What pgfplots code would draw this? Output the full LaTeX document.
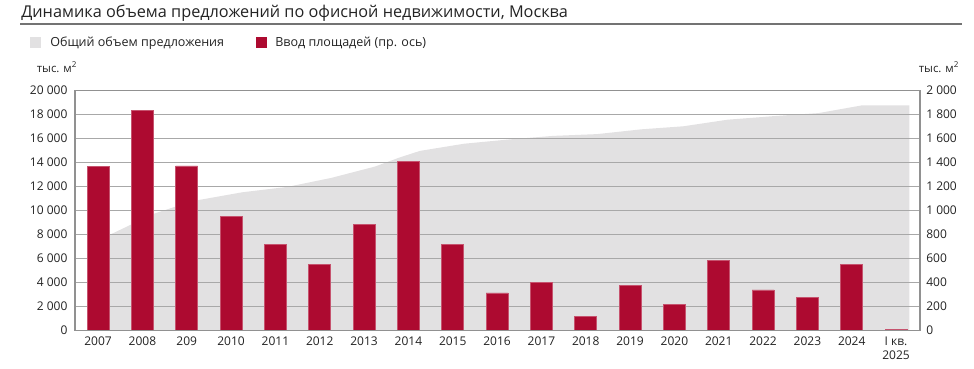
\documentclass[border=0pt]{standalone}
\usepackage{fontspec}
\setmainfont{Open Sans}
\usepackage{pgfplots}
\pgfplotsset{compat=1.18}
\definecolor{barred}{RGB}{173,10,48}
\definecolor{areagray}{RGB}{226,225,226}
\definecolor{gridgray}{RGB}{168,168,168}
\definecolor{axgray}{RGB}{145,145,145}
\definecolor{txt}{RGB}{35,35,35}
\pgfplotsset{
  common/.style={
    at={(56.25pt,28.275pt)}, anchor=south west, scale only axis,
    width=633.75pt, height=180pt,
    xmin=-0.52, xmax=18.54,
    major tick length=0pt,
    scaled y ticks=false,
    /pgf/number format/fixed,
    /pgf/number format/precision=0,
    /pgf/number format/1000 sep={\ },
    /pgf/number format/assume math mode=true,
  }
}
\begin{document}
\begin{tikzpicture}[x=0.75pt,y=0.75pt]
\useasboundingbox (0,0) rectangle (974,368);
% title
\node[anchor=base west, inner sep=0pt, text=txt, font=\fontsize{12.2}{15}\selectfont] at (21,368-17.5) {Динамика объема предложений по офисной недвижимости, Москва};
\draw[color=gray!90!black, line width=1.1pt] (20,368-24) -- (962,368-24);
% legend
\fill[areagray] (30,368-48) rectangle (41,368-37);
\node[anchor=base west, inner sep=0pt, text=txt, font=\fontsize{9.4}{12}\selectfont] at (50,368-47) {Общий объем предложения};
\fill[barred] (256,368-48) rectangle (267,368-37);
\node[anchor=base west, inner sep=0pt, text=txt, font=\fontsize{9.4}{12}\selectfont] at (275,368-47) {Ввод площадей (пр. ось)};
% units
\node[anchor=base, inner sep=0pt, text=txt, font=\fontsize{8.6}{10}\selectfont] at (57,368-73) {тыс. м\textsuperscript{2}};
\node[anchor=base, inner sep=0pt, text=txt, font=\fontsize{8.6}{10}\selectfont] at (939,368-73) {тыс. м\textsuperscript{2}};

\begin{axis}[
  common,
  ymin=0, ymax=20000,
  axis on top,
  axis line style={axgray, line width=0.9pt},
  ymajorgrids, grid style={gridgray, line width=0.8pt},
  ytick={0,2000,...,20000}, xtick=\empty,
  y tick label style={text=txt, font=\fontsize{9}{11}\selectfont, inner sep=0pt, anchor=east, xshift=-5.5pt},
]
\addplot[fill=areagray, draw=none] coordinates {
(0.23,7900) (1.25,9700) (1.7,10250) (2.26,10850) (3.25,11500) (4.27,11950) (5.26,12700)
(6.25,13650) (6.8,14400) (7.26,14950) (8.26,15550) (9.26,15900) (10.26,16200) (11.26,16350)
(12.26,16750) (13.2,17000) (14.2,17550) (15.25,17850) (16.25,18100) (17.24,18750) (18.3,18750)
} \closedcycle;
\end{axis}

\begin{axis}[
  common,
  ymin=0, ymax=2000,
  axis x line=none,
  axis y line*=right,
  axis line style={axgray, line width=0.9pt, -},
  ytick={0,200,...,2000},
  xtick={0,...,18},
  y tick label style={text=txt, font=\fontsize{9}{11}\selectfont, inner sep=0pt, anchor=west, xshift=4.5pt},
]
\addplot[ybar, bar width=16.5pt, fill=barred, draw=barred!70!white, line width=0.4pt] coordinates {
(0,1365) (1,1830) (2,1370) (3,950) (4,717) (5,552) (6,885) (7,1405) (8,717) (9,311)
(10,400) (11,117) (12,375) (13,217) (14,580) (15,336) (16,275) (17,552) (18,8)
};
\end{axis}

\begin{axis}[
  common,
  ymin=0, ymax=2000,
  axis y line=none, axis x line*=bottom,
  axis line style={axgray, line width=0.9pt, -},
  xtick={0,...,18},
  xticklabels={2007,2008,209,2010,2011,2012,2013,2014,2015,2016,2017,2018,2019,2020,2021,2022,2023,2024,{I кв.\\2025}},
  x tick label style={text=txt, font=\fontsize{9}{10.5}\selectfont, inner sep=0pt, anchor=north, yshift=-5pt, align=center},
]
\addplot[draw=none] coordinates {(0,0)};
\end{axis}
\end{tikzpicture}
\end{document}
